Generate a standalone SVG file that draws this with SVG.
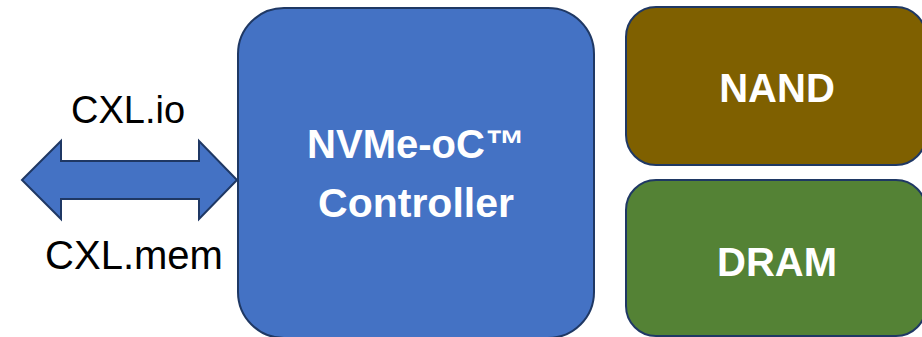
<svg xmlns="http://www.w3.org/2000/svg" width="922" height="337" viewBox="0 0 922 337">
<style>
.box{stroke:#1F3864;stroke-width:2}
.w{fill:#FFFFFF;font-family:"Liberation Sans",Arial,sans-serif;font-weight:bold;text-anchor:middle}
.k{fill:#000000;font-family:"Liberation Sans",Arial,sans-serif;text-anchor:middle}
</style>
<rect width="922" height="337" fill="#FFFFFF"/>
<g id="connectors">
<path class="box" fill="#4472C4" d="M22,180 L61,141 L61,161 L199,161 L199,141 L237,180 L199,219 L199,199 L61,199 L61,219 Z"/>
</g>
<g id="label-io"><text class="k" x="128" y="123" font-size="38">CXL.io</text></g>
<g id="label-mem"><text class="k" x="134" y="269" font-size="40">CXL.mem</text></g>
<g id="controller">
<rect class="box" x="238" y="8" width="356" height="330" rx="46" ry="46" fill="#4472C4"/>
<text class="w" x="416" y="158" font-size="40">NVMe-oC™</text>
<text class="w" x="416" y="217" font-size="41">Controller</text>
</g>
<g id="nand">
<rect class="box" x="626" y="7" width="300" height="158" rx="30" ry="30" fill="#7F6000"/>
<text class="w" x="777" y="102" font-size="40">NAND</text>
</g>
<g id="dram">
<rect class="box" x="626" y="180" width="300" height="156" rx="30" ry="30" fill="#548235"/>
<text class="w" x="777" y="276" font-size="40">DRAM</text>
</g>
</svg>
